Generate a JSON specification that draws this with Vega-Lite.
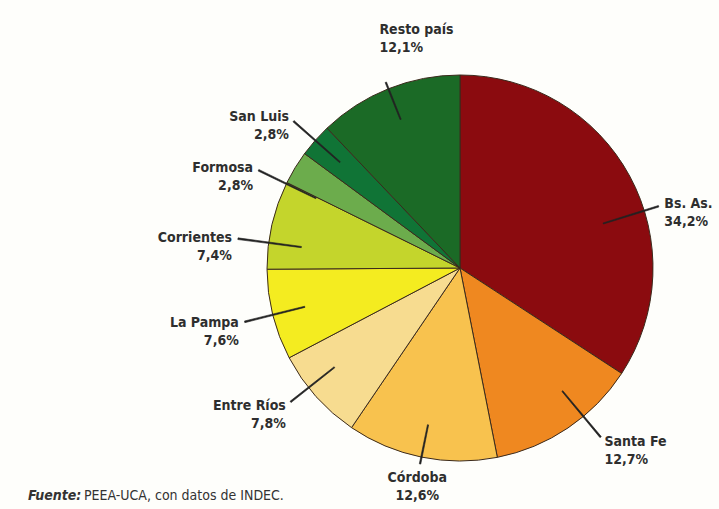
{
  "$schema": "https://vega.github.io/schema/vega-lite/v6.json",
  "autosize": {"type": "none"},
  "padding": {"left": 201, "top": 27, "right": 0, "bottom": 0},
  "width": 518,
  "height": 482,
  "background": "#fefefb",
  "title": {
    "text": "Fuente:",
    "subtitle": "\u200b\u00a0\u00a0\u00a0\u00a0\u00a0\u00a0\u00a0\u00a0\u00a0\u00a0\u00a0\u00a0\u00a0\u00a0PEEA-UCA, con datos de INDEC.",
    "orient": "bottom", "anchor": "start", "frame": "group", "offset": -20, "dx": -173,
    "font": "DejaVu Sans Condensed, Roboto, sans-serif", "fontSize": 14, "fontStyle": "italic", "fontWeight": "bold", "color": "#333333", "lineHeight": 14,
    "subtitleFont": "DejaVu Sans Condensed, Roboto, sans-serif", "subtitleFontSize": 14, "subtitleFontWeight": "normal", "subtitleFontStyle": "normal", "subtitleColor": "#333333", "subtitlePadding": -14, "subtitleLineHeight": 14
  },
  "config": {
    "text": {"font": "DejaVu Sans Condensed, Roboto, sans-serif", "fontWeight": "bold", "fontSize": 14, "color": "#2e2e2e", "lineHeight": 18},
    "arc": {"fill": "#222222", "stroke": "#222222", "strokeWidth": 0.6}
  },
  "data": {
    "values": [
      {"name": "Bs. As.", "value": 34.2},
      {"name": "Santa Fe", "value": 12.7},
      {"name": "Córdoba", "value": 12.6},
      {"name": "Entre Ríos", "value": 7.8},
      {"name": "La Pampa", "value": 7.6},
      {"name": "Corrientes", "value": 7.4},
      {"name": "Formosa", "value": 2.8},
      {"name": "San Luis", "value": 2.8},
      {"name": "Resto país", "value": 12.1}
    ]
  },
  "transform": [
    {"window": [{"op": "sum", "field": "value", "as": "end"}], "frame": [null, 0]},
    {"calculate": "datum.end - datum.value", "as": "start"},
    {"calculate": "datum.end - datum.value / 2", "as": "mid"},
    {"calculate": "datum.mid - 0.06", "as": "l0"},
    {"calculate": "datum.mid + 0.06", "as": "l1"},
    {"calculate": "[datum.name, replace(format(datum.value, '.1f'), '.', ',') + '%']", "as": "label"}
  ],
  "layer": [
    {
      "mark": {"type": "arc", "radius": 193, "stroke": "#3b2a1c", "strokeWidth": 1},
      "encoding": {
        "theta": {"field": "start", "type": "quantitative", "stack": null, "scale": {"domain": [0, 100], "range": [0, 6.283185307]}},
        "theta2": {"field": "end"},
        "color": {"field": "name", "type": "nominal", "legend": null,
          "scale": {
            "domain": ["Bs. As.", "Santa Fe", "Córdoba", "Entre Ríos", "La Pampa", "Corrientes", "Formosa", "San Luis", "Resto país"],
            "range": ["#8b0b0f", "#ef8820", "#f8c24e", "#f7dc90", "#f4ec20", "#c4d52c", "#6cac4c", "#107436", "#1b6a26"]
          }
        }
      }
    },
    {
      "transform": [{"filter": {"field": "name", "oneOf": ["San Luis", "La Pampa"]}}],
      "mark": {"type": "arc", "innerRadius": 160, "outerRadius": 222},
      "encoding": {"theta": {"field": "l0", "type": "quantitative", "stack": null}, "theta2": {"field": "l1"}}
    },
    {
      "transform": [{"filter": {"field": "name", "oneOf": ["San Luis", "La Pampa"]}}],
      "mark": {"type": "text", "radius": 228, "align": "right", "baseline": "middle"},
      "encoding": {"theta": {"field": "mid", "type": "quantitative", "stack": null}, "text": {"field": "label"}}
    },
    {
      "transform": [{"filter": {"field": "name", "equal": "Entre Ríos"}}],
      "mark": {"type": "arc", "innerRadius": 160, "outerRadius": 216, "thetaOffset": 0.06, "theta2Offset": 0.06},
      "encoding": {"theta": {"field": "l0", "type": "quantitative", "stack": null}, "theta2": {"field": "l1"}}
    },
    {
      "transform": [{"filter": {"field": "name", "equal": "Entre Ríos"}}],
      "mark": {"type": "text", "radius": 222, "align": "right", "baseline": "middle", "thetaOffset": 0.06},
      "encoding": {"theta": {"field": "mid", "type": "quantitative", "stack": null}, "text": {"field": "label"}}
    },
    {
      "transform": [{"filter": {"field": "name", "oneOf": ["Formosa", "Corrientes"]}}],
      "mark": {"type": "arc", "innerRadius": 160, "outerRadius": 224, "thetaOffset": -0.095, "theta2Offset": -0.095},
      "encoding": {"theta": {"field": "l0", "type": "quantitative", "stack": null}, "theta2": {"field": "l1"}}
    },
    {
      "transform": [{"filter": {"field": "name", "oneOf": ["Formosa", "Corrientes"]}}],
      "mark": {"type": "text", "radius": 230, "align": "right", "baseline": "middle", "thetaOffset": -0.095},
      "encoding": {"theta": {"field": "mid", "type": "quantitative", "stack": null}, "text": {"field": "label"}}
    },
    {
      "transform": [{"filter": {"field": "name", "equal": "Santa Fe"}}],
      "mark": {"type": "arc", "innerRadius": 160, "outerRadius": 220, "thetaOffset": -0.1, "theta2Offset": -0.1},
      "encoding": {"theta": {"field": "l0", "type": "quantitative", "stack": null}, "theta2": {"field": "l1"}}
    },
    {
      "transform": [{"filter": {"field": "name", "equal": "Santa Fe"}}],
      "mark": {"type": "text", "radius": 226, "align": "left", "baseline": "middle", "thetaOffset": -0.1},
      "encoding": {"theta": {"field": "mid", "type": "quantitative", "stack": null}, "text": {"field": "label"}}
    },
    {
      "transform": [{"filter": {"field": "name", "equal": "Bs. As."}}],
      "mark": {"type": "arc", "innerRadius": 150, "outerRadius": 208, "thetaOffset": 0.195, "theta2Offset": 0.195},
      "encoding": {"theta": {"field": "l0", "type": "quantitative", "stack": null}, "theta2": {"field": "l1"}}
    },
    {
      "transform": [{"filter": {"field": "name", "equal": "Bs. As."}}],
      "mark": {"type": "text", "radius": 214, "align": "left", "baseline": "middle", "thetaOffset": 0.195},
      "encoding": {"theta": {"field": "mid", "type": "quantitative", "stack": null}, "text": {"field": "label"}}
    },
    {
      "transform": [{"filter": {"field": "name", "oneOf": ["Córdoba", "Resto país"]}}],
      "mark": {"type": "arc", "innerRadius": 160, "outerRadius": 200},
      "encoding": {"theta": {"field": "l0", "type": "quantitative", "stack": null}, "theta2": {"field": "l1"}}
    },
    {
      "transform": [{"filter": {"field": "name", "equal": "Resto país"}}],
      "mark": {"type": "text", "radius": 245, "align": "left", "baseline": "bottom", "thetaOffset": 0.045},
      "encoding": {"theta": {"field": "mid", "type": "quantitative", "stack": null}, "text": {"field": "label"}}
    },
    {
      "transform": [{"filter": {"field": "name", "equal": "Córdoba"}}],
      "mark": {"type": "text", "radius": 214, "align": "center", "baseline": "middle"},
      "encoding": {"theta": {"field": "mid", "type": "quantitative", "stack": null}, "text": {"field": "label"}}
    }
  ]
}
